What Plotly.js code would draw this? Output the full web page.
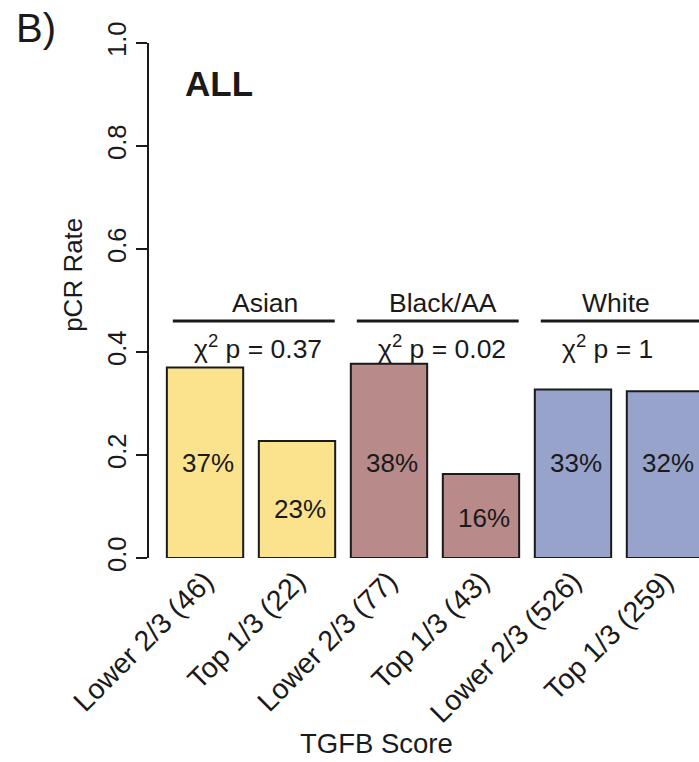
<!DOCTYPE html>
<html>
<head>
<meta charset="utf-8">
<script src="https://cdn.plot.ly/plotly-3.0.1.min.js"></script>
<style>html,body{margin:0;padding:0;background:#fff;}#chart{width:699px;height:762px;}</style>
</head>
<body>
<div id="chart"></div>
<script>
// ---- data ----
var categories = ["Lower 2/3 (46)", "Top 1/3 (22)", "Lower 2/3 (77)", "Top 1/3 (43)", "Lower 2/3 (526)", "Top 1/3 (259)"];
var pcrRate = [0.370, 0.227, 0.377, 0.163, 0.327, 0.324];
var groups = ["Asian", "Black/AA", "White"];
var chiP = ["0.37", "0.02", "1"];
var yTicks = [0, 0.2, 0.4, 0.6, 0.8, 1.0];
var yTickText = ["0.0", "0.2", "0.4", "0.6", "0.8", "1.0"];

// ---- styling ----
var groupColors = ["#FBE38E", "#B88A8A", "#97A3CB"];
var FONT = "Liberation Sans, Arial, Helvetica, sans-serif";
var TXT = "#1a1a1a";
var labelY = [0.184, 0.095, 0.184, 0.078, 0.184, 0.184];
var groupTitleX = [0.65, 2.59, 4.47];
var chiX = [0.58, 2.58, 4.37];

var xs = categories.map(function(_, i){ return i; });
var barColors = xs.map(function(i){ return groupColors[Math.floor(i/2)]; });

var trace = {
  type: "bar",
  x: xs,
  y: pcrRate,
  width: 0.83,
  marker: {color: barColors, line: {color: "#1a1a1a", width: 2}},
  hoverinfo: "skip"
};

var annotations = [];
pcrRate.forEach(function(v, i){
  annotations.push({x: i + 0.03, y: labelY[i], xref: "x", yref: "y", text: Math.round(v*100) + "%",
    showarrow: false, font: {family: FONT, size: 26, color: TXT}, xanchor: "center", yanchor: "middle"});
});
var shapes = [];
groups.forEach(function(g, k){
  annotations.push({x: groupTitleX[k], y: 0.495, xref: "x", yref: "y", text: g, showarrow: false,
    font: {family: FONT, size: 26.5, color: TXT}, xanchor: "center", yanchor: "middle"});
  annotations.push({x: chiX[k], y: 0.41, xref: "x", yref: "y", text: "χ<sup>2</sup> p = " + chiP[k], showarrow: false,
    font: {family: FONT, size: 26.5, color: TXT}, xanchor: "center", yanchor: "middle"});
  shapes.push({type: "line", xref: "x", yref: "y", x0: 2*k - 0.35, x1: 2*k + 1.41, y0: 0.46, y1: 0.46,
    line: {color: "#1a1a1a", width: 3}});
});
annotations.push({x: 0.152, y: 0.922, xref: "x", yref: "y", text: "<b>ALL</b>", showarrow: false,
  font: {family: FONT, size: 35, color: TXT}, xanchor: "center", yanchor: "middle"});
annotations.push({x: -0.2055, y: 1.029, xref: "paper", yref: "paper", text: "B)", showarrow: false,
  font: {family: FONT, size: 40, color: TXT}, xanchor: "center", yanchor: "middle"});
annotations.push({x: -0.138, y: 0.55, xref: "paper", yref: "paper", text: "pCR Rate", showarrow: false, textangle: -90,
  font: {family: FONT, size: 26, color: TXT}, xanchor: "center", yanchor: "middle"});
annotations.push({x: 0.413, y: -0.361, xref: "paper", yref: "paper", text: "TGFB Score", showarrow: false,
  font: {family: FONT, size: 27.5, color: TXT}, xanchor: "center", yanchor: "middle"});

var layout = {
  width: 699, height: 762,
  margin: {l: 149, r: 0, t: 43, b: 204, pad: 0},
  paper_bgcolor: "#fff", plot_bgcolor: "#fff",
  showlegend: false,
  xaxis: {
    range: [-0.609, 5.370], tickvals: xs, ticktext: categories, tickangle: -45,
    showline: false, showgrid: false, zeroline: false, ticks: "", ticklabelstandoff: 0,
    tickfont: {family: FONT, size: 28.5, color: TXT}, fixedrange: true
  },
  yaxis: {
    range: [0, 1], tickvals: yTicks, ticktext: yTickText, tickangle: -90,
    showline: true, linecolor: "#1a1a1a", linewidth: 2, showgrid: false, zeroline: false,
    ticks: "outside", ticklen: 11, tickwidth: 2, tickcolor: "#1a1a1a",
    tickfont: {family: FONT, size: 25.5, color: TXT}, fixedrange: true
  },
  annotations: annotations,
  shapes: shapes
};

Plotly.newPlot("chart", [trace], layout, {displayModeBar: false, staticPlot: true});
</script>
</body>
</html>
